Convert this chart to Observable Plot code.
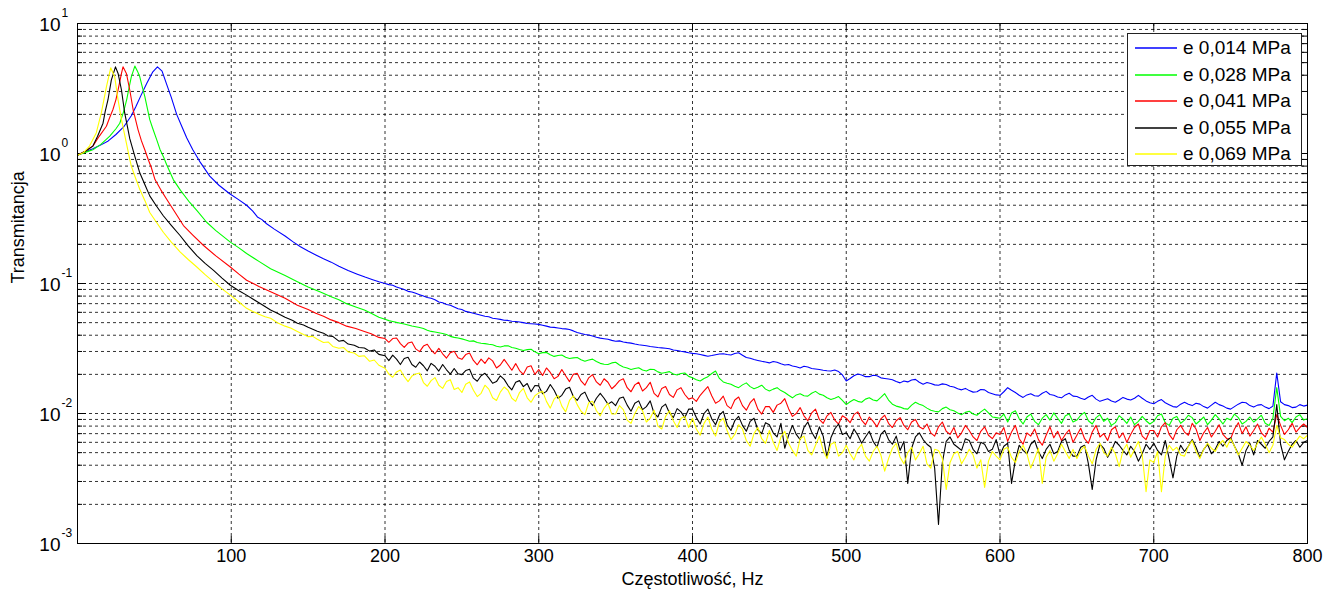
<!DOCTYPE html>
<html>
<head>
<meta charset="utf-8">
<script src="https://cdn.jsdelivr.net/npm/d3@7"></script>
<script src="https://cdn.jsdelivr.net/npm/@observablehq/plot@0.6"></script>
<style>
  html, body { margin: 0; padding: 0; background: #fff; }
  #wrap { position: relative; width: 1341px; height: 593px; font-family: "Liberation Sans", Arial, sans-serif; }
  #legend { position: absolute; left: 1127px; top: 33px; width: 175px; height: 133px; border: 1px solid #222; background: #fff; box-sizing: border-box; }
  .row { position: absolute; left: 0; height: 24px; display: flex; align-items: center; font-size: 19px; color: #000; white-space: nowrap; }
  .row svg { margin-left: 7px; margin-right: 6px; }
</style>
</head>
<body>
<div id="wrap"><div id="legend"></div></div>
<script>
// ---------------- data ----------------
const seriesLabels = ["e 0,014 MPa", "e 0,028 MPa", "e 0,041 MPa", "e 0,055 MPa", "e 0,069 MPa"];
const seriesColors = ["#0000ff", "#00ff00", "#ff0000", "#000000", "#ffff00"];

const xTicks = [100, 200, 300, 400, 500, 600, 700, 800];
const yMajorTicks = [10, 1, 0.1, 0.01, 0.001];
const yMajorExps = ["1", "0", "-1", "-2", "-3"];

// shared frequency grid for the noisy tail (Hz)
const tailFreq = [
  200,202.5,205,207.5,210,212.5,215,217.5,220,222.5,225,227.5,230,232.5,235,237.5,240,242.5,245,247.5,
  250,252.5,255,257.5,260,262.5,265,267.5,270,272.5,275,277.5,280,282.5,285,287.5,290,292.5,295,297.5,
  300,302.5,305,307.5,310,312.5,315,317.5,320,322.5,325,327.5,330,332.5,335,337.5,340,342.5,345,347.5,
  350,352.5,355,357.5,360,362.5,365,367.5,370,372.5,375,377.5,380,382.5,385,387.5,390,392.5,395,397.5,
  400,402.5,405,407.5,410,412.5,415,417.5,420,422.5,425,427.5,430,432.5,435,437.5,440,442.5,445,447.5,
  450,452.5,455,457.5,460,462.5,465,467.5,470,472.5,475,477.5,480,482.5,485,487.5,490,492.5,495,497.5,
  500,502.5,505,507.5,510,512.5,515,517.5,520,522.5,525,527.5,530,532.5,535,537.5,540,542.5,545,547.5,
  550,552.5,555,557.5,560,562.5,565,567.5,570,572.5,575,577.5,580,582.5,585,587.5,590,592.5,595,597.5,
  600,602.5,605,607.5,610,612.5,615,617.5,620,622.5,625,627.5,630,632.5,635,637.5,640,642.5,645,647.5,
  650,652.5,655,657.5,660,662.5,665,667.5,670,672.5,675,677.5,680,682.5,685,687.5,690,692.5,695,697.5,
  700,702.5,705,707.5,710,712.5,715,717.5,720,722.5,725,727.5,730,732.5,735,737.5,740,742.5,745,747.5,
  750,752.5,755,757.5,760,762.5,765,767.5,770,772.5,775,777.5,780,782.5,785,787.5,790,792.5,795,797.5,
  800];

// --- e 0,014 MPa (blue)
const blueHeadF = [0,5,10,15,20,25,30,35,38,41,45,49,52,55,58,61,64.5,68,71,75,80,86,92,99,105,110,114,117,120,123,128,135,140,145,150,155,160,165,170,176,182,187,192,196];
const blueHeadV = [0.97,1.03,1.09,1.16,1.25,1.4,1.6,1.95,2.3,2.75,3.46,4.25,4.64,4.3,3.4,2.7,2.0,1.6,1.32,1.07,0.85,0.67,0.57,0.49,0.44,0.40,0.36,0.325,0.31,0.288,0.262,0.232,0.21,0.192,0.178,0.166,0.155,0.146,0.136,0.126,0.118,0.112,0.107,0.103];
const blueTail = [
  0.100,0.098,0.097,0.094,0.092,0.090,0.087,0.086,0.084,0.082,0.080,0.078,0.077,0.075,0.072,0.071,0.069,0.068,0.066,0.064,
  0.063,0.061,0.060,0.059,0.058,0.057,0.056,0.0555,0.054,0.0535,0.053,0.0522,0.052,0.0512,0.051,0.0505,0.050,0.0492,0.049,0.0488,
  0.0485,0.0478,0.047,0.0462,0.046,0.0455,0.045,0.0448,0.0443,0.0432,0.042,0.0412,0.0405,0.0402,0.0395,0.0386,0.038,0.0376,0.0372,0.0365,
  0.036,0.0362,0.0355,0.0351,0.0348,0.0342,0.0338,0.0335,0.0332,0.0328,0.0325,0.0322,0.032,0.0318,0.0315,0.0308,0.0305,0.0301,0.0298,0.0293,
  0.029,0.0288,0.0284,0.028,0.0276,0.0279,0.0283,0.0287,0.0288,0.0284,0.0282,0.0289,0.0293,0.0281,0.027,0.0266,0.026,0.0256,0.0252,0.0249,
  0.0245,0.0251,0.0248,0.0241,0.0236,0.0238,0.0232,0.0229,0.0224,0.0231,0.0228,0.0222,0.022,0.0218,0.0215,0.0213,0.0212,0.0216,0.021,0.0198,
  0.0178,0.0186,0.0195,0.0201,0.0198,0.0192,0.0192,0.0197,0.0195,0.0188,0.0186,0.0184,0.0182,0.0176,0.0172,0.0178,0.0175,0.0181,0.0183,0.0174,
  0.0168,0.0173,0.017,0.0166,0.0165,0.0169,0.0167,0.0162,0.016,0.0155,0.0152,0.0156,0.015,0.0146,0.0147,0.0153,0.0152,0.0145,0.0142,0.0139,
  0.0138,0.0147,0.0158,0.0151,0.0145,0.0138,0.0133,0.0139,0.0142,0.0137,0.0136,0.0143,0.0148,0.014,0.0138,0.0134,0.0132,0.0139,0.0143,0.0136,
  0.0135,0.0131,0.0128,0.0134,0.0138,0.0129,0.0124,0.0127,0.013,0.0125,0.0122,0.0127,0.0133,0.0129,0.0127,0.0131,0.0138,0.0131,0.0125,0.0121,
  0.0119,0.0124,0.0128,0.0121,0.0117,0.0113,0.0112,0.0118,0.0122,0.0118,0.0115,0.012,0.0118,0.0113,0.011,0.0116,0.0122,0.0117,0.0114,0.011,
  0.0108,0.0113,0.0118,0.0122,0.0121,0.0115,0.0112,0.0116,0.0117,0.0112,0.0109,0.0114,0.0205,0.0123,0.0117,0.0115,0.0111,0.0112,0.0117,0.0114,
  0.0116];

// --- e 0,028 MPa (green)
const greenHeadF = [0,5,10,15,21,25,27.5,30,32,33.5,35,37.3,39,40.5,42,43.8,45.5,47,49,51.5,53.6,55.8,58,62.3,67,73,78,84,90,99.4,105,110,118,125.6,135,143,150,158,165,170,175,181,186.6,191,196];
const greenHeadV = [0.97,1.02,1.07,1.17,1.36,1.55,1.71,2.1,2.6,3.2,3.89,4.7,4.3,3.89,3.3,2.74,2.2,1.82,1.55,1.28,1.08,0.95,0.82,0.63,0.52,0.42,0.36,0.296,0.255,0.208,0.188,0.17,0.148,0.13,0.115,0.103,0.094,0.086,0.079,0.075,0.07,0.066,0.0625,0.059,0.055];
const greenTail = [
  0.053,0.0518,0.051,0.0502,0.0495,0.0488,0.048,0.0471,0.0465,0.0458,0.045,0.0437,0.0428,0.0424,0.0418,0.0412,0.0405,0.0392,0.0385,0.0381,
  0.0375,0.0368,0.036,0.0362,0.0352,0.0347,0.0345,0.0341,0.0338,0.0329,0.0325,0.0331,0.0332,0.0322,0.0318,0.0311,0.0305,0.031,0.0312,0.0298,
  0.0288,0.0294,0.0295,0.0283,0.0275,0.0279,0.0282,0.0271,0.0265,0.0268,0.027,0.0259,0.0252,0.0258,0.0262,0.0251,0.0243,0.0239,0.0238,0.0245,
  0.0248,0.0236,0.0228,0.0224,0.0218,0.0222,0.0225,0.0216,0.0212,0.0219,0.0218,0.0209,0.0204,0.0207,0.021,0.0201,0.0198,0.0203,0.0205,0.0193,
  0.0188,0.0182,0.0178,0.0186,0.0192,0.0203,0.0212,0.0186,0.0175,0.0171,0.0168,0.0162,0.0158,0.0166,0.0172,0.0161,0.0155,0.0159,0.0165,0.0154,
  0.0149,0.0154,0.0158,0.015,0.0145,0.0138,0.0132,0.0139,0.0142,0.0137,0.0136,0.0143,0.0148,0.0141,0.0138,0.0132,0.0128,0.0131,0.0135,0.0126,
  0.0117,0.0123,0.0128,0.0124,0.0122,0.0129,0.0132,0.0127,0.0125,0.0133,0.0142,0.0127,0.0118,0.0114,0.0112,0.0109,0.0108,0.0116,0.0122,0.0118,
  0.0115,0.011,0.0106,0.0104,0.0103,0.0109,0.0112,0.0107,0.0105,0.0101,0.0098,0.0102,0.0104,0.0099,0.0097,0.0103,0.0108,0.0101,0.0094,0.0093,
  0.0092,0.0099,0.0086,0.0101,0.0105,0.0091,0.0083,0.0094,0.0099,0.0087,0.0082,0.0092,0.0098,0.0089,0.0101,0.0092,0.0084,0.0096,0.0099,0.0086,
  0.0089,0.0097,0.0102,0.0088,0.0083,0.0093,0.0098,0.0087,0.0092,0.0081,0.0085,0.0096,0.0091,0.0084,0.0094,0.0082,0.0087,0.0095,0.0088,0.0083,
  0.0087,0.0096,0.0099,0.0085,0.0081,0.0092,0.0095,0.0084,0.0089,0.0097,0.0093,0.0083,0.0088,0.0094,0.0082,0.0089,0.0098,0.0091,0.0083,0.0092,
  0.0089,0.0099,0.0093,0.0083,0.0087,0.0094,0.0086,0.0091,0.0097,0.0084,0.0081,0.0092,0.0158,0.0095,0.0088,0.0092,0.0085,0.0094,0.0098,0.0089,
  0.0091];

// --- e 0,041 MPa (red)
const redHeadF = [0,5,10,14,18.8,21,23,25,26.4,28.6,29.6,31.8,34,36.2,39.4,41.6,44,46,48,50.4,54,58,63,68.9,75,82,90,99.4,105,110,118,125.6,135,143,150,155,160,165,170,175,181,186.6,191,196];
const redHeadV = [0.97,1.04,1.14,1.35,1.62,1.9,2.17,2.6,3.08,4.13,4.64,4.13,3.08,2.17,1.52,1.25,1.05,0.9,0.78,0.63,0.53,0.445,0.36,0.279,0.236,0.196,0.163,0.134,0.118,0.106,0.095,0.0865,0.077,0.068,0.063,0.059,0.056,0.0525,0.05,0.047,0.045,0.0428,0.041,0.0385];
const redTail = [
  0.0377,0.0353,0.0377,0.0381,0.0345,0.0322,0.0348,0.0355,0.0314,0.0299,0.033,0.0341,0.0308,0.0288,0.0317,0.0288,0.0267,0.0294,0.0301,0.0268,
  0.0261,0.0284,0.0292,0.0256,0.0237,0.0262,0.0243,0.0268,0.0254,0.0224,0.0236,0.0261,0.0237,0.0215,0.0242,0.0214,0.02,0.0228,0.0233,0.02,
  0.0218,0.0196,0.0224,0.0207,0.0185,0.0193,0.0218,0.0195,0.0176,0.02,0.0204,0.0178,0.0165,0.0188,0.0199,0.0175,0.0165,0.0185,0.0174,0.0155,
  0.0165,0.0179,0.0185,0.0158,0.0147,0.0166,0.0174,0.0149,0.0158,0.0174,0.0143,0.0134,0.0156,0.0161,0.014,0.0133,0.0152,0.0158,0.014,0.0129,
  0.0132,0.0124,0.0138,0.0149,0.0161,0.0137,0.012,0.0125,0.0136,0.0115,0.0109,0.0127,0.0134,0.0115,0.0106,0.0121,0.013,0.0108,0.0099,0.0113,
  0.0113,0.0102,0.0116,0.012,0.013,0.0109,0.0095,0.01,0.0111,0.0096,0.0088,0.0101,0.0108,0.009,0.0084,0.0096,0.0102,0.0089,0.0083,0.0096,
  0.0092,0.0085,0.0098,0.0103,0.0089,0.0082,0.0094,0.0087,0.0079,0.0091,0.0097,0.0084,0.0078,0.0088,0.0093,0.0081,0.0075,0.0086,0.009,0.0079,
  0.0076,0.0083,0.0071,0.0067,0.0079,0.0086,0.0073,0.0069,0.0078,0.0065,0.0071,0.0081,0.0074,0.0066,0.0062,0.0073,0.0079,0.0068,0.0064,0.0071,
  0.0069,0.0078,0.0061,0.0072,0.0081,0.0064,0.0058,0.0071,0.0067,0.0076,0.0063,0.0057,0.0068,0.0079,0.0065,0.0073,0.0062,0.0069,0.0075,0.006,
  0.0068,0.0077,0.0064,0.0059,0.0072,0.0081,0.0066,0.007,0.0062,0.0075,0.0079,0.0065,0.0071,0.006,0.0069,0.0078,0.0083,0.0067,0.0063,0.0074,
  0.0074,0.0066,0.0079,0.0085,0.0069,0.0063,0.0075,0.0081,0.0072,0.0068,0.0084,0.0076,0.0062,0.0071,0.0078,0.0066,0.0073,0.0082,0.0069,0.0064,
  0.0064,0.0076,0.0085,0.007,0.0079,0.0067,0.0074,0.0083,0.0071,0.0066,0.0077,0.0072,0.0098,0.0081,0.0069,0.0075,0.0084,0.0072,0.0078,0.0083,
  0.0078];

// --- e 0,055 MPa (black)
const blackHeadF = [0,5,10,13,16.6,18,19.8,22,24.7,26.4,28.6,30.7,32.5,34,37.3,40.5,44,47,51,55.8,61,66.7,72,77.6,83,88.5,94,99.4,105,110,118,125.6,130,135,140,143,147,150,153,156,160,163,166,170,173,176,180,183,186.6,190,193,196];
const blackHeadV = [0.97,1.04,1.14,1.35,1.71,2.1,2.58,3.67,4.64,4.13,3.08,2.05,1.6,1.3,0.95,0.71,0.57,0.472,0.4,0.332,0.28,0.234,0.195,0.164,0.143,0.126,0.11,0.097,0.088,0.0814,0.071,0.0625,0.059,0.055,0.052,0.0495,0.048,0.046,0.0445,0.043,0.0415,0.0395,0.0392,0.036,0.0365,0.0342,0.0335,0.0322,0.0319,0.0302,0.0308,0.0285];
const blackTail = [
  0.0278,0.0255,0.0281,0.0262,0.0238,0.0265,0.0271,0.0238,0.0227,0.0249,0.0233,0.0213,0.0243,0.0231,0.0212,0.0238,0.0217,0.0201,0.0222,0.0202,
  0.0199,0.0214,0.0219,0.0187,0.0177,0.0195,0.0204,0.0188,0.0171,0.0176,0.0195,0.0183,0.0164,0.0152,0.0174,0.0179,0.0161,0.017,0.0147,0.0164,
  0.0163,0.0142,0.0148,0.0167,0.0151,0.0131,0.0138,0.0154,0.0159,0.0135,0.0126,0.014,0.0146,0.0126,0.0115,0.0131,0.0143,0.0131,0.0118,0.0123,
  0.0115,0.0131,0.0134,0.0116,0.0104,0.012,0.0125,0.0107,0.0113,0.0125,0.01,0.0094,0.0112,0.0118,0.0101,0.0093,0.0109,0.0103,0.0093,0.0108,
  0.0108,0.0093,0.0083,0.01,0.0108,0.0091,0.0082,0.0097,0.0104,0.0082,0.0074,0.0088,0.0095,0.0081,0.0073,0.0087,0.0092,0.0075,0.007,0.0085,
  0.0082,0.0071,0.0066,0.0084,0.0054,0.0068,0.0081,0.0069,0.0063,0.0078,0.0086,0.0072,0.0064,0.0079,0.0067,0.0046,0.0065,0.0076,0.0083,0.0069,
  0.0071,0.0064,0.0076,0.0068,0.0059,0.0066,0.0073,0.0061,0.0055,0.0069,0.0074,0.0063,0.0058,0.0067,0.0052,0.0061,0.0029,0.0054,0.0066,0.0071,
  0.0063,0.0058,0.0055,0.0038,0.0014,0.0042,0.0061,0.0066,0.0058,0.0055,0.0052,0.0064,0.0062,0.0053,0.0049,0.006,0.0058,0.0051,0.0053,0.0063,
  0.0048,0.0056,0.0059,0.0029,0.0044,0.0057,0.0052,0.0049,0.0058,0.0062,0.0051,0.0045,0.0053,0.0058,0.0049,0.0051,0.0061,0.0064,0.0052,0.0047,
  0.0047,0.0055,0.0057,0.0041,0.0026,0.0044,0.0058,0.0054,0.0046,0.0052,0.0061,0.0057,0.0052,0.0048,0.0056,0.0051,0.0043,0.0049,0.0058,0.0053,
  0.0059,0.0052,0.0048,0.0062,0.0045,0.0032,0.0047,0.0057,0.0051,0.0056,0.0063,0.0055,0.0046,0.0053,0.0058,0.0049,0.0053,0.0061,0.0056,0.0062,
  0.0065,0.0056,0.0049,0.004,0.0052,0.0059,0.0048,0.0062,0.0058,0.0054,0.0061,0.0066,0.0117,0.0058,0.0044,0.0051,0.0058,0.0062,0.0055,0.006,
  0.0062];

// --- e 0,069 MPa (yellow)
const yellowHeadF = [0,4,7.8,10,12.2,15.5,18.8,21.6,24.2,26.4,28.6,31.8,34,35,37.5,40.5,44,47,51,55.8,61,66.7,72,77.6,83,88.5,94,99.4,105,110,114,118,122,125.6,130,135,139,143,147,150,153,156,160,163,166,170,173,176,180,183,186.6,190,193,196];
const yellowHeadV = [0.97,1.02,1.14,1.28,1.44,2.05,3.26,4.56,3.89,2.58,1.82,1.2,0.9,0.8,0.66,0.53,0.43,0.352,0.3,0.248,0.208,0.175,0.153,0.134,0.117,0.103,0.091,0.0814,0.072,0.0644,0.061,0.058,0.0555,0.054,0.05,0.047,0.0452,0.0428,0.0405,0.039,0.0392,0.0372,0.0352,0.0355,0.0328,0.0318,0.0322,0.0298,0.0292,0.0275,0.0278,0.0252,0.0258,0.0235];
const yellowTail = [
  0.0223,0.0201,0.019,0.0209,0.0216,0.0192,0.0176,0.0194,0.0201,0.0205,0.0173,0.0162,0.0179,0.0189,0.0165,0.0156,0.0176,0.0182,0.0153,0.0158,
  0.0145,0.0168,0.0175,0.0151,0.0135,0.0143,0.0165,0.0154,0.0132,0.0126,0.0146,0.016,0.0151,0.0131,0.0124,0.0145,0.0156,0.0132,0.0122,0.0137,
  0.0144,0.0148,0.0124,0.011,0.0129,0.0138,0.0114,0.0103,0.0126,0.0137,0.0117,0.0104,0.0098,0.0121,0.0124,0.0105,0.0096,0.011,0.012,0.0099,
  0.0099,0.0115,0.0107,0.0089,0.0084,0.01,0.0113,0.0105,0.0086,0.0092,0.0106,0.008,0.0076,0.0095,0.0105,0.0088,0.0078,0.0092,0.0095,0.0078,
  0.0092,0.0076,0.0068,0.0084,0.0094,0.0076,0.0067,0.0086,0.0092,0.0074,0.0063,0.0069,0.0082,0.0076,0.0062,0.0056,0.007,0.0078,0.0064,0.0059,
  0.0074,0.006,0.0052,0.0066,0.0073,0.0059,0.0052,0.0047,0.0064,0.0067,0.0052,0.0048,0.0057,0.0067,0.0052,0.0045,0.0058,0.006,0.0047,0.005,
  0.0057,0.0049,0.0044,0.0053,0.0058,0.0047,0.0043,0.0051,0.0056,0.0048,0.0036,0.0045,0.0054,0.0059,0.0046,0.0041,0.005,0.0055,0.0044,0.0049,
  0.0056,0.0041,0.0038,0.0053,0.0052,0.0045,0.0026,0.0042,0.0049,0.0051,0.0041,0.0046,0.0053,0.0048,0.0038,0.0044,0.0027,0.0043,0.0051,0.0047,
  0.0044,0.0053,0.0055,0.0046,0.0042,0.0051,0.0057,0.0049,0.0038,0.0045,0.0054,0.0029,0.0046,0.0052,0.0043,0.0049,0.0058,0.0051,0.0045,0.0053,
  0.0045,0.0052,0.0056,0.0047,0.0041,0.0053,0.0059,0.005,0.0047,0.0055,0.0049,0.0039,0.0052,0.0058,0.0046,0.0053,0.0061,0.0048,0.0025,0.0044,
  0.0042,0.0051,0.0025,0.0047,0.0057,0.0052,0.0055,0.0048,0.0047,0.0056,0.0062,0.0051,0.0045,0.0053,0.0059,0.0054,0.0051,0.0058,0.0062,0.0055,
  0.0064,0.0056,0.0048,0.0054,0.0061,0.0057,0.0052,0.0059,0.0066,0.0058,0.005,0.0057,0.0081,0.0065,0.0063,0.0058,0.0055,0.0061,0.0067,0.0064,
  0.0068];

// ---------------- build table ----------------
const parts = [
  [blueHeadF, blueHeadV, blueTail],
  [greenHeadF, greenHeadV, greenTail],
  [redHeadF, redHeadV, redTail],
  [blackHeadF, blackHeadV, blackTail],
  [yellowHeadF, yellowHeadV, yellowTail]
];
const rows = [];
parts.forEach(([hf, hv, tv], i) => {
  hf.forEach((f, j) => rows.push({s: seriesLabels[i], f, v: hv[j]}));
  tailFreq.forEach((f, j) => { if (tv[j] !== undefined) rows.push({s: seriesLabels[i], f, v: tv[j]}); });
});

// ---------------- layout ----------------
const W = 1341, H = 593, mL = 77, mR = 34, mT = 23, mB = 50;
const frameW = W - mL - mR, frameH = H - mT - mB;

const allLogTicks = d3.scaleLog().domain([0.001, 10]).ticks();
const yMinor = allLogTicks.filter(t => !yMajorTicks.some(m => Math.abs(m - t) / m < 1e-9));
const yGrid = allLogTicks.filter(t => t > 0.0011 && t < 9.9);
const xGrid = xTicks.filter(t => t < 800);

const chart = Plot.plot({
  width: W, height: H,
  marginLeft: mL, marginRight: mR, marginTop: mT, marginBottom: mB,
  style: {fontFamily: "'Liberation Sans', Arial, sans-serif", background: "#fff", color: "#000"},
  x: {domain: [0, 800], axis: null},
  y: {type: "log", domain: [0.001, 10], axis: null},
  color: {domain: seriesLabels, range: seriesColors},
  marks: [
    Plot.ruleY(yGrid, {y: d => d, stroke: "#000", strokeWidth: 1, strokeDasharray: "3,3", strokeOpacity: 0.8}),
    Plot.ruleX(xGrid, {x: d => d, stroke: "#000", strokeWidth: 1, strokeDasharray: "3,3", strokeOpacity: 0.8}),
    Plot.tickY(yMajorTicks, {y: d => d, stroke: "#000", insetRight: frameW - 9}),
    Plot.tickY(yMajorTicks, {y: d => d, stroke: "#000", insetLeft: frameW - 9}),
    Plot.tickY(yMinor, {y: d => d, stroke: "#000", insetRight: frameW - 5}),
    Plot.tickY(yMinor, {y: d => d, stroke: "#000", insetLeft: frameW - 5}),
    Plot.tickX(xTicks, {x: d => d, stroke: "#000", insetTop: frameH - 7}),
    Plot.tickX(xTicks, {x: d => d, stroke: "#000", insetBottom: frameH - 7}),
    Plot.line(rows, {x: "f", y: "v", z: "s", stroke: "s", strokeWidth: 1.1, curve: "linear"}),
    Plot.frame({stroke: "#000", strokeWidth: 1}),
    Plot.axisX(xTicks, {anchor: "bottom", tickSize: 0, tickPadding: 6, fontSize: 18, label: null}),
    Plot.text(yMajorTicks, {y: d => d, frameAnchor: "left", text: () => "10", textAnchor: "end", dx: -17, dy: 1, fontSize: 19}),
    Plot.text(yMajorTicks, {y: d => d, frameAnchor: "left", text: (d, i) => yMajorExps[i], textAnchor: "start", dx: -16, dy: -10, fontSize: 12}),
    Plot.text(["Transmitancja"], {frameAnchor: "left", text: d => d, rotate: -90, dx: -59, fontSize: 18, lineAnchor: "middle"}),
    Plot.text(["Częstotliwość, Hz"], {frameAnchor: "bottom", text: d => d, dy: 36, fontSize: 18, lineAnchor: "middle"})
  ]
});
document.getElementById("wrap").prepend(chart);

// legend (inside plot, HTML overlay)
const legend = document.getElementById("legend");
seriesLabels.forEach((lab, i) => {
  const row = document.createElement("div");
  row.className = "row";
  row.style.top = (2 + i * 26.5) + "px";
  row.innerHTML = `<svg width="42" height="4"><line x1="0" y1="2" x2="42" y2="2" stroke="${seriesColors[i]}" stroke-width="1.4"/></svg><span>${lab}</span>`;
  legend.appendChild(row);
});
</script>
</body>
</html>
